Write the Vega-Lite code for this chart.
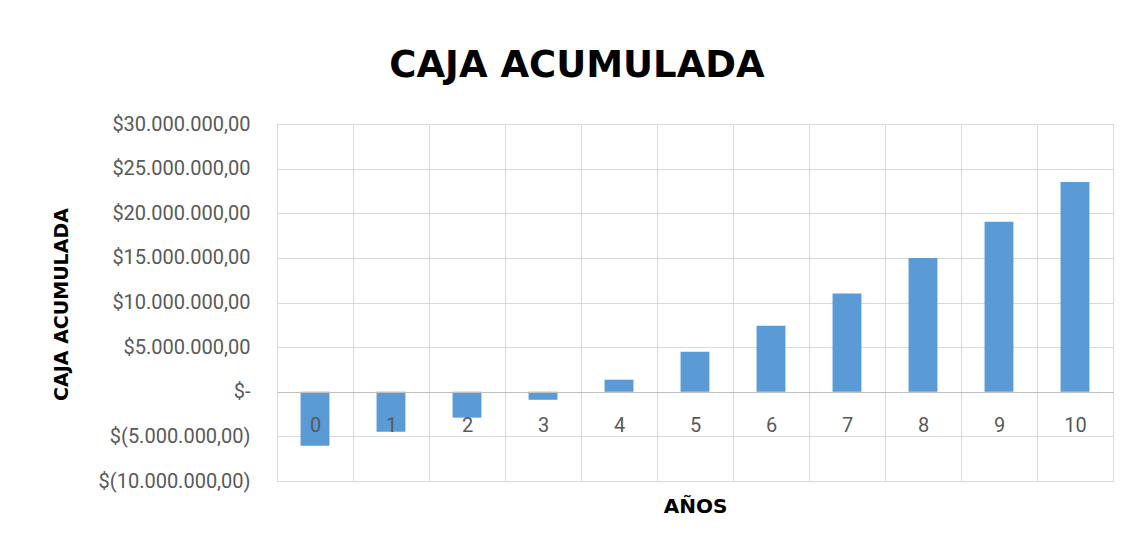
{
  "$schema": "https://vega.github.io/schema/vega-lite/v6.json",
  "autosize": "none",
  "width": 836,
  "height": 357,
  "padding": {"left": 277, "top": 124, "right": 18, "bottom": 64},
  "background": "white",
  "title": {
    "text": "CAJA ACUMULADA",
    "font": "DejaVu Sans",
    "fontSize": 37,
    "fontWeight": "bold",
    "color": "#000000",
    "anchor": "middle",
    "frame": "group",
    "baseline": "alphabetic",
    "dx": -118,
    "offset": 0
  },
  "data": {
    "values": [
      {"anio": "0", "caja": -6050000},
      {"anio": "1", "caja": -4480000},
      {"anio": "2", "caja": -2900000},
      {"anio": "3", "caja": -900000},
      {"anio": "4", "caja": 1350000},
      {"anio": "5", "caja": 4480000},
      {"anio": "6", "caja": 7400000},
      {"anio": "7", "caja": 11000000},
      {"anio": "8", "caja": 15000000},
      {"anio": "9", "caja": 19060000},
      {"anio": "10", "caja": 23500000}
    ]
  },
  "mark": {"type": "bar", "color": "#5B9BD5", "width": {"band": 0.38}},
  "encoding": {
    "x": {
      "field": "anio",
      "type": "ordinal",
      "sort": null,
      "scale": {"paddingInner": 0, "paddingOuter": 0},
      "axis": {
        "title": "AÑOS",
        "titleFont": "DejaVu Sans",
        "titleFontSize": 20,
        "titleFontWeight": "bold",
        "titleColor": "#000000",
        "titleBaseline": "alphabetic",
        "titleY": 120,
        "labelAngle": 0,
        "labelFont": "Roboto",
        "labelFontSize": 20,
        "labelColor": "#595959",
        "labelBaseline": "top",
        "labelPadding": 23,
        "offset": -89,
        "domainColor": "#bfbfbf",
        "domainWidth": 1,
        "ticks": false,
        "grid": true,
        "gridColor": "#d9d9d9",
        "gridWidth": 1,
        "tickBand": "extent",
        "zindex": 1
      }
    },
    "y": {
      "field": "caja",
      "type": "quantitative",
      "scale": {"domain": [-10000000, 30000000], "nice": false, "zero": false},
      "axis": {
        "title": "CAJA ACUMULADA",
        "titleFont": "DejaVu Sans",
        "titleFontSize": 19,
        "titleFontWeight": "bold",
        "titleColor": "#000000",
        "titleAngle": -90,
        "titleBaseline": "middle",
        "titleAlign": "center",
        "titleX": -216,
        "titleY": 180,
        "values": [-10000000, -5000000, 0, 5000000, 10000000, 15000000, 20000000, 25000000, 30000000],
        "labelExpr": "datum.value == 0 ? '$-' : (datum.value < 0 ? '$(' + format(-datum.value, ',.2f') + ')' : '$' + format(datum.value, ',.2f'))",
        "labelFont": "Roboto",
        "labelFontSize": 20,
        "labelColor": "#595959",
        "labelPadding": 27,
        "ticks": false,
        "domainColor": "#bfbfbf",
        "domainWidth": 1,
        "grid": true,
        "gridColor": "#d9d9d9",
        "gridWidth": 1
      }
    }
  },
  "config": {
    "locale": {
      "number": {"decimal": ",", "thousands": ".", "grouping": [3], "currency": ["$", ""]}
    },
    "view": {"stroke": "#d9d9d9", "strokeWidth": 1}
  }
}
